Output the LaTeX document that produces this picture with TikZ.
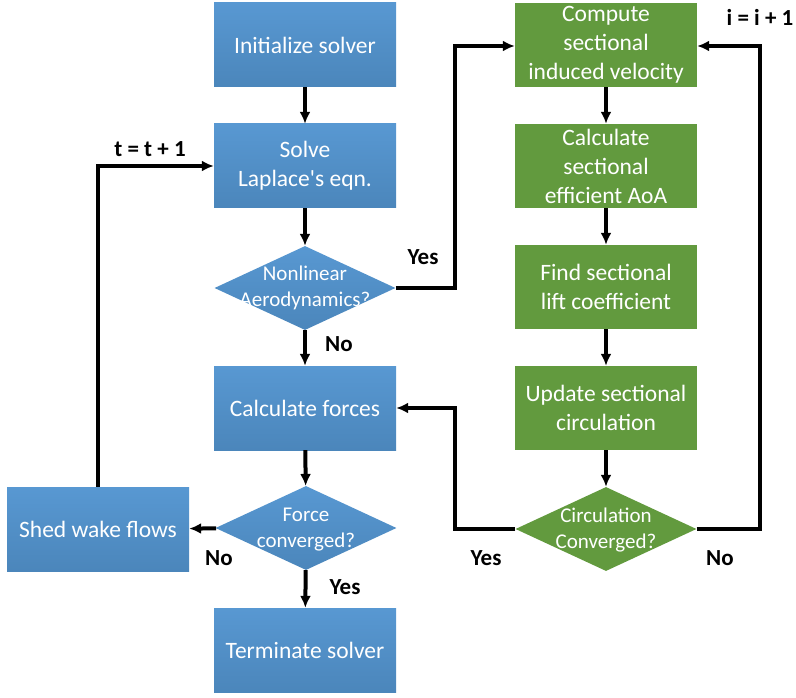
\documentclass[tikz,border=0pt]{standalone}
\usepackage{fontspec}
\setmainfont{Carlito}
\usetikzlibrary{shapes.geometric,arrows.meta}
\definecolor{bluetop}{HTML}{5898D2}
\definecolor{bluebot}{HTML}{4B86BB}
\definecolor{grn}{HTML}{629A3E}
\begin{document}
\begin{tikzpicture}[x=1pt,y=-1pt,
  boxbase/.style={rectangle, minimum width=182pt, minimum height=84pt, inner sep=0pt,
    text=white, font=\fontsize{23.5}{29}\selectfont, align=center, draw=none},
  bluebox/.style={boxbase, top color=bluetop, bottom color=bluebot},
  greenbox/.style={boxbase, fill=grn},
  diabase/.style={diamond, minimum width=181pt, minimum height=84pt, inner sep=0pt, draw=none},
  bluedia/.style={diabase, top color=bluetop, bottom color=bluebot},
  greendia/.style={diabase, fill=grn},
  diatext/.style={text=white, font=\fontsize{21}{26}\selectfont, align=center, inner sep=0pt},
  arr/.style={line width=4pt, line join=miter, -{Latex[length=12pt,width=11pt]}},
  lab/.style={font=\bfseries\fontsize{23}{27}\selectfont, inner sep=0pt}]
\useasboundingbox (0,0) rectangle (796,698);
% left column
\node[bluebox] (init) at (305,45) {Initialize solver};
\node[bluebox] (solve) at (305,166) {Solve\\Laplace\textquotesingle s eqn.};
\node[bluedia, label={[diatext]center:{Nonlinear\\Aerodynamics?}}] (nl) at (305,288) {};
\node[bluebox] (forces) at (305,408) {Calculate forces};
\node[bluedia, label={[diatext, yshift=-2pt]center:{Force\\converged?}}] (fc) at (306,528) {};
\node[bluebox] (shed) at (98,529) {Shed wake flows};
\node[bluebox] (term) at (305,650) {Terminate solver};
% right column
\node[greenbox] (comp) at (606,45) {Compute\\sectional\\induced velocity};
\node[greenbox] (aoa) at (606,166) {Calculate\\sectional\\efficient AoA};
\node[greenbox] (lift) at (606,287) {Find sectional\\lift coefficient};
\node[greenbox] (upd) at (606,408) {Update sectional\\circulation};
\node[greendia, label={[diatext, yshift=-1pt]center:{Circulation\\Converged?}}] (cc) at (606,529) {};
% connectors
\draw[arr] (init) -- (solve);
\draw[arr] (solve) -- (nl);
\draw[arr] (nl) -- (forces);
\draw[arr] (forces) -- (fc);
\draw[arr] (fc) -- (term);
\draw[arr] (fc) -- (shed);
\draw[arr] (shed.north) |- (solve.west);
\draw[arr] (nl.east) -| (455,46) -- (comp.west |- 0,46);
\draw[arr] (comp) -- (aoa);
\draw[arr] (aoa) -- (lift);
\draw[arr] (lift) -- (upd);
\draw[arr] (upd) -- (cc);
\draw[arr] (cc.west) -| (455,408) -- (forces.east);
\draw[arr] (cc.east) -| (760,46) -- (comp.east |- 0,46);
% labels
\node[lab] (l1) at (423,257) {Yes};
\node[lab] (l2) at (339,344) {No};
\node[lab] (l3) at (150,149) {t = t + 1};
\node[lab] (l4) at (760,17) {i = i + 1};
\node[lab] (l5) at (486,558) {Yes};
\node[lab] (l6) at (720,558) {No};
\node[lab] (l7) at (219,558) {No};
\node[lab] (l8) at (345,587) {Yes};
\end{tikzpicture}
\end{document}
